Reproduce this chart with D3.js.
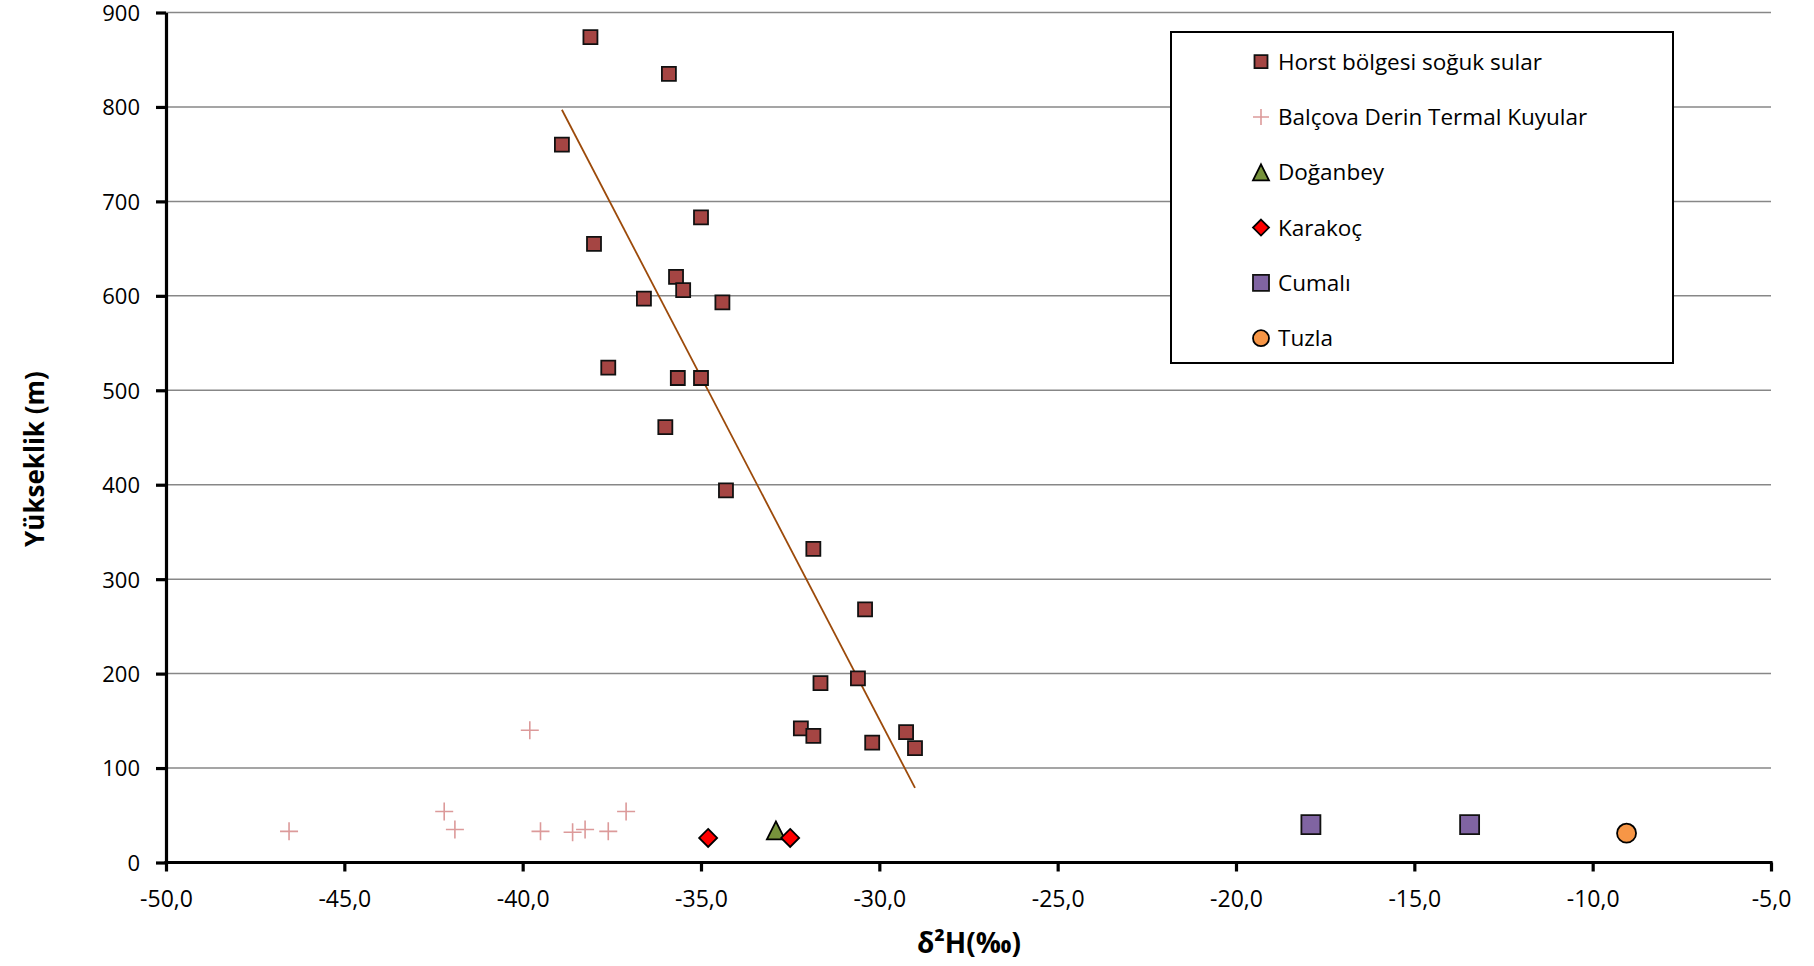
<!DOCTYPE html>
<html><head><meta charset="utf-8">
<script src="https://cdn.jsdelivr.net/npm/d3@7"></script>
<style>
body{margin:0;background:#fff;}
svg{display:block;}
text{font-family:"Open Sans",sans-serif;fill:#000;}
</style>
</head><body>
<svg id="c" width="1814" height="966"></svg>
<script>
// ---- data ----
const xTicks = [-50,-45,-40,-35,-30,-25,-20,-15,-10,-5];
const yTicks = [0,100,200,300,400,500,600,700,800,900];
const seriesNames = ["Horst bölgesi soğuk sular","Balçova Derin Termal Kuyular","Doğanbey","Karakoç","Cumalı","Tuzla"];

const horstX = [-38.1,-35.9,-38.9,-35.0,-38.0,-35.7,-35.5,-36.6,-34.4,-37.6,-35.65,-35.0,-36.0,-34.3,-31.85,-30.4,-31.65,-30.6,-32.2,-31.85,-30.2,-29.25,-29.0];
const horstY = [874,835,760,683,655,620,606,597,593,524,513,513,461,394,332,268,190,195,142,134,127,138,121];

const balcovaX = [-46.55,-42.2,-41.9,-39.8,-39.5,-38.6,-38.25,-37.6,-37.1];
const balcovaY = [33,54,35,140,33,32,35,33,54];

const doganbeyX = [-32.9];
const doganbeyY = [34];

const karakocX = [-34.8,-32.5];
const karakocY = [26,26];

const cumaliX = [-17.9,-13.45];
const cumaliY = [40,40];

const tuzlaX = [-9.05];
const tuzlaY = [31];

const trendX = [-38.9,-29.0];
const trendY = [797,79];

// ---- setup ----
const svg = d3.select("#c");
const x = d3.scaleLinear().domain([-50,-5]).range([166,1771]);
const y = d3.scaleLinear().domain([0,900]).range([862.5,12.5]);

const fmtX = v => v.toFixed(1).replace(".", ",");
const fmtY = v => String(v);

// gridlines
svg.append("g").selectAll("line").data(yTicks.filter(v=>v>0)).join("line")
  .attr("x1", x(-50)).attr("x2", x(-5))
  .attr("y1", d=>y(d)).attr("y2", d=>y(d))
  .attr("stroke", "#878787").attr("stroke-width", 1.5);

// trend line
svg.append("line")
  .attr("x1", x(trendX[0])).attr("y1", y(trendY[0]))
  .attr("x2", x(trendX[1])).attr("y2", y(trendY[1]))
  .attr("stroke", "#9c4a0a").attr("stroke-width", 1.8);

// axes
const gx = svg.append("g").attr("transform", `translate(0,${y(0)})`)
  .call(d3.axisBottom(x).tickValues(xTicks).tickFormat(fmtX).tickSize(9).tickSizeOuter(0));
const gy = svg.append("g").attr("transform", `translate(${x(-50)},0)`)
  .call(d3.axisLeft(y).tickValues(yTicks).tickFormat(fmtY).tickSize(10).tickSizeOuter(0));
[gx, gy].forEach(g => {
  g.select(".domain").attr("stroke", "#000").attr("stroke-width", 3.2);
  g.selectAll(".tick line").attr("stroke", "#000").attr("stroke-width", 3.2);
  g.selectAll(".tick text").attr("font-family", '"Open Sans",sans-serif').attr("font-size", 22).attr("fill", "#000");
});
gx.selectAll(".tick text").attr("y", 36).attr("dy", "0.36em").attr("font-size", 23);
gy.selectAll(".tick text").attr("x", -26).attr("dy", "0.36em");
gx.select(".domain").attr("d", `M${x(-50)-1.6},0H${x(-5)+1.6}`);

// marker path generators
const sq = s => `M${-s/2},${-s/2}h${s}v${s}h${-s}Z`;
const dia = s => `M0,${-s/2}L${s/2},0L0,${s/2}L${-s/2},0Z`;
const tri = (w,h) => `M0,${-h/2}L${w/2},${h/2}L${-w/2},${h/2}Z`;
const crs = s => `M${-s/2},0H${s/2}M0,${-s/2}V${s/2}`;
const circ = s => `M${s/2},0A${s/2},${s/2} 0 1 1 ${-s/2},0A${s/2},${s/2} 0 1 1 ${s/2},0Z`;

const styles = [
  {path: sq(14), fill:"#a54543", stroke:"#111", sw:1.8, lpath: sq(13)},
  {path: crs(18), fill:"none", stroke:"#dc9a9a", sw:1.6, lpath: crs(16)},
  {path: tri(18,18), fill:"#77933c", stroke:"#000", sw:1.8, lpath: tri(16,16)},
  {path: dia(18), fill:"#ff0000", stroke:"#000", sw:1.8, lpath: dia(16)},
  {path: sq(19), fill:"#8064a2", stroke:"#111", sw:1.8, lpath: sq(16)},
  {path: circ(19), fill:"#f79646", stroke:"#000", sw:1.8, lpath: circ(16)}
];
const series = [
  [horstX,horstY],[balcovaX,balcovaY],[doganbeyX,doganbeyY],
  [karakocX,karakocY],[cumaliX,cumaliY],[tuzlaX,tuzlaY]
];

const order = [1,0,2,3,4,5];
order.forEach(i => {
  const [xs, ys] = series[i];
  const st = styles[i];
  svg.append("g").selectAll("path").data(xs.map((v,k)=>[v,ys[k]])).join("path")
    .attr("transform", d=>`translate(${x(d[0])},${y(d[1])})`)
    .attr("d", st.path).attr("fill", st.fill)
    .attr("stroke", st.stroke).attr("stroke-width", st.sw);
});

// legend
const lg = svg.append("g");
lg.append("rect").attr("x",1171).attr("y",32).attr("width",502).attr("height",331)
  .attr("fill","#fff").attr("stroke","#000").attr("stroke-width",2);
seriesNames.forEach((name,i) => {
  const cy = 61.7 + i*55.3;
  const st = styles[i];
  lg.append("path").attr("transform",`translate(1261,${cy})`).attr("d", st.lpath)
    .attr("fill", st.fill).attr("stroke", st.stroke).attr("stroke-width", st.sw);
  lg.append("text").attr("x",1278).attr("y",cy).attr("dy","0.36em")
    .attr("font-size",22.5).text(name);
});

// axis titles
svg.append("text").attr("transform","translate(35,459) rotate(-90)")
  .attr("text-anchor","middle").attr("dy","0.36em")
  .attr("font-size",26).attr("font-weight","bold").text("Yükseklik (m)");
svg.append("text").attr("x",969).attr("y",943)
  .attr("text-anchor","middle").attr("dy","0.36em")
  .attr("font-size",28).attr("font-weight","bold").text("δ²H(‰)");
</script>
</body></html>
